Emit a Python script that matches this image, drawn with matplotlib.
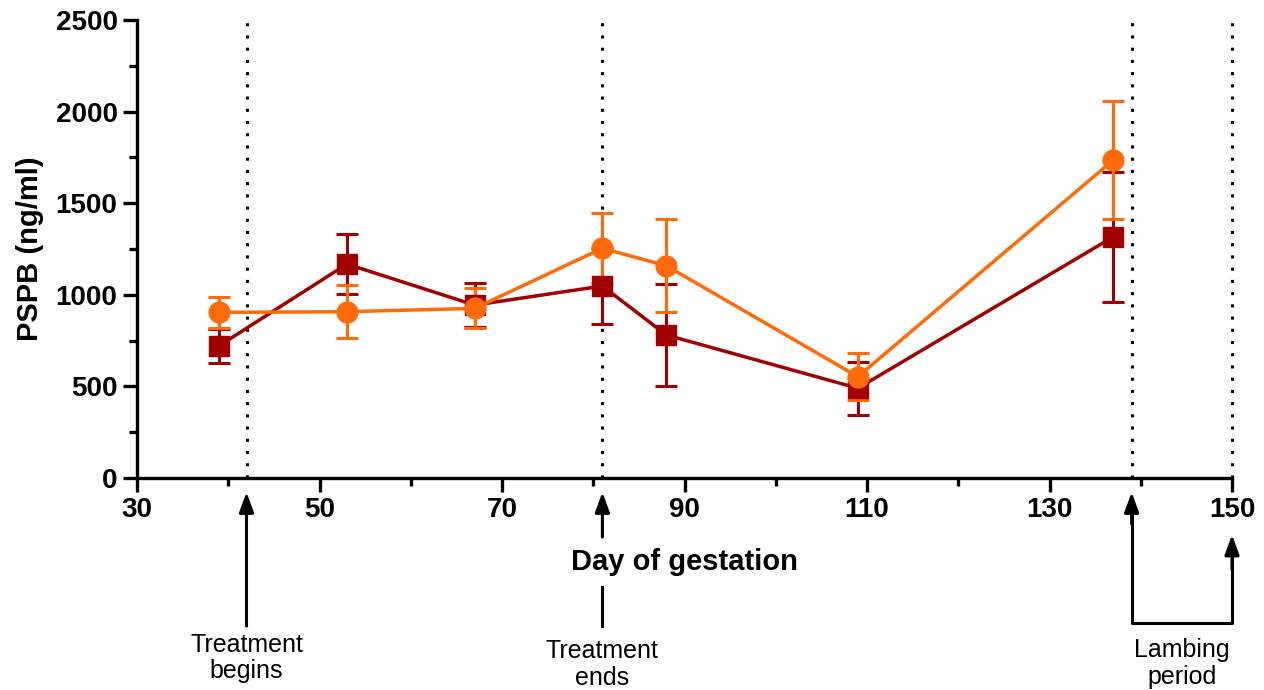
import matplotlib.pyplot as plt
from matplotlib.ticker import MultipleLocator

plt.rcParams["font.family"] = ["Liberation Sans", "DejaVu Sans"]

# Data
days = [39, 53, 67, 81, 88, 109, 137]
group_a_mean = [722, 1168, 944, 1048, 781, 490, 1317]
group_a_sem = [93, 162, 120, 209, 280, 145, 355]
group_b_mean = [904, 908, 926, 1254, 1159, 553, 1736]
group_b_sem = [83, 146, 109, 191, 255, 129, 324]

event_days = [42, 81, 139, 150]
tick_days = [30, 50, 70, 90, 110, 130, 150]

dark_red = "#A10000"
orange = "#FF6B0B"

fig = plt.figure(figsize=(12.64, 6.9), dpi=100)
ax = fig.add_axes([0.1084, 0.3072, 0.8663, 0.6638])

# Dotted event lines
for d in event_days:
    ax.axvline(d, color="black", lw=2.2, ls=(0, (1, 3)), zorder=1, clip_on=False)

# Series
for mean, sem, col, mk in [
    (group_a_mean, group_a_sem, dark_red, "s"),
    (group_b_mean, group_b_sem, orange, "o"),
]:
    ax.errorbar(
        days, mean, yerr=sem, color=col, marker=mk, markersize=15,
        lw=2.5, elinewidth=2.2, capsize=8, capthick=2.2, zorder=3,
    )

# Axes styling
ax.set_xlim(30, 150)
ax.set_ylim(0, 2500)
ax.set_xticks(tick_days)
ax.xaxis.set_minor_locator(MultipleLocator(10))
ax.yaxis.set_major_locator(MultipleLocator(500))
ax.yaxis.set_minor_locator(MultipleLocator(250))
for s in ["top", "right"]:
    ax.spines[s].set_visible(False)
for s in ["left", "bottom"]:
    ax.spines[s].set_linewidth(2.4)
ax.tick_params(which="major", length=10, width=2.4, labelsize=20, pad=4)
ax.tick_params(which="minor", length=6, width=2.4)
for lab in ax.get_xticklabels() + ax.get_yticklabels():
    lab.set_fontweight("bold")

ax.set_ylabel("PSPB (ng/ml)", fontsize=21, fontweight="bold")
ax.yaxis.set_label_coords(-0.085, 0.5)
ax.set_xlabel("Day of gestation", fontsize=21, fontweight="bold")
ax.xaxis.set_label_coords(0.5, -0.152)

# Annotations below the axis (x in data, y in axes fraction)
trans = ax.get_xaxis_transform()
arrow = dict(arrowstyle="-|>,head_length=0.6,head_width=0.22", color="black",
             lw=2.2, shrinkA=0, shrinkB=0, mutation_scale=20)

ax.annotate("", xy=(42, -0.031), xytext=(42, -0.323), xycoords=trans,
            textcoords=trans, arrowprops=arrow, annotation_clip=False)
ax.text(42, -0.393, "Treatment\nbegins", transform=trans, ha="center",
        va="center", fontsize=18, linespacing=1.15)

ax.annotate("", xy=(81, -0.031), xytext=(81, -0.129), xycoords=trans,
            textcoords=trans, arrowprops=arrow, annotation_clip=False)
ax.plot([81, 81], [-0.238, -0.323], transform=trans, color="black",
        lw=2.2, clip_on=False)
ax.text(81, -0.407, "Treatment\nends", transform=trans, ha="center",
        va="center", fontsize=18, linespacing=1.15)

ax.plot([139, 139, 150, 150], [-0.08, -0.317, -0.317, -0.16],
        transform=trans, color="black", lw=2.2, clip_on=False)
ax.annotate("", xy=(139, -0.031), xytext=(139, -0.1), xycoords=trans,
            textcoords=trans, arrowprops=arrow, annotation_clip=False)
ax.annotate("", xy=(150, -0.124), xytext=(150, -0.2), xycoords=trans,
            textcoords=trans, arrowprops=arrow, annotation_clip=False)
ax.text(144.5, -0.405, "Lambing\nperiod", transform=trans, ha="center",
        va="center", fontsize=18, linespacing=1.15)

fig.savefig("out.png", dpi=100)
